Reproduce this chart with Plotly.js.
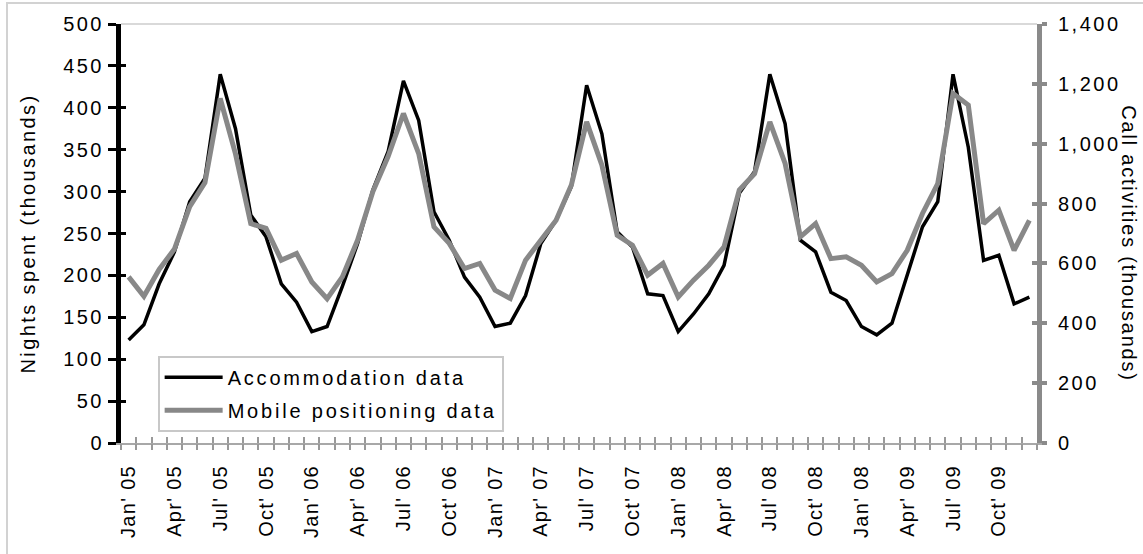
<!DOCTYPE html>
<html>
<head>
<meta charset="utf-8">
<script src="https://cdn.plot.ly/plotly-3.0.1.min.js"></script>
<style>
  html, body { margin:0; padding:0; background:#fff; }
  #wrap { position:relative; width:1143px; height:554px; overflow:hidden; }
  #chart { width:1143px; height:554px; }
  #frame { position:absolute; left:6px; top:2px; width:1200px; height:600px;
           border-left:2px solid #d2d2d2; border-top:2px solid #d2d2d2; pointer-events:none; }
  svg text { letter-spacing:2.5px; }
  g.xtick text { letter-spacing:1.3px; }
  text.legendtext { letter-spacing:2.8px; }
  text.ytitle { letter-spacing:2.4px; }
  text.annotation-text { letter-spacing:1.8px; }
</style>
</head>
<body>
<div id="wrap">
<div id="chart"></div>
<div id="frame"></div>
</div>
<script>
// Month index 0 = Jan 2005 ... 59 = Dec 2009
const monthIndex = Array.from({length: 60}, (_, i) => i);

const tickPositions = [0,3,6,9,12,15,18,21,24,27,30,33,36,39,42,45,48,51,54,57];
const tickLabels = [
  "Jan' 05","Apr' 05","Jul' 05","Oct' 05",
  "Jan' 06","Apr' 06","Jul' 06","Oct' 06",
  "Jan' 07","Apr' 07","Jul' 07","Oct' 07",
  "Jan' 08","Apr' 08","Jul' 08","Oct' 08",
  "Jan' 08","Apr' 09","Jul' 09","Oct' 09"
];

// Nights spent (thousands) - left axis
const accommodation = [
  123,141,190,228,288,316,440,375,272,246,190,168,
  133,139,187,238,302,348,432,385,276,242,198,174,
  139,143,176,238,266,306,427,369,252,234,178,176,
  133,154,178,212,298,324,440,381,242,228,180,170,
  139,129,143,202,258,288,440,353,218,224,166,174
];

// Call activities (thousands) - right axis
const mobile = [
  555,490,580,648,790,870,1151,966,733,717,611,633,
  538,482,555,678,840,958,1101,967,722,667,583,600,
  511,483,611,678,744,862,1073,928,694,661,561,600,
  488,544,594,655,845,900,1073,934,689,733,616,622,
  594,538,566,644,767,867,1168,1129,733,778,644,744
];

const FONT = "Arial, 'Liberation Sans', sans-serif";

const traces = [
  {type:'scatter', mode:'lines', name:'Accommodation data', x:monthIndex, y:accommodation,
   xaxis:'x', yaxis:'y', line:{color:'#000000', width:3.5}, legendgroup:'a'},
  {type:'scatter', mode:'lines', name:'Mobile positioning data', x:monthIndex, y:mobile,
   xaxis:'x', yaxis:'y2', line:{color:'#888888', width:5}, legendgroup:'b'},
  // helper traces so the overlay tick axes are drawn
  {type:'scatter', x:[], y:[], xaxis:'x2', yaxis:'y', showlegend:false, hoverinfo:'skip'},
  {type:'scatter', x:[], y:[], xaxis:'x3', yaxis:'y', showlegend:false, hoverinfo:'skip'},
  {type:'scatter', x:[], y:[], xaxis:'x', yaxis:'y3', showlegend:false, hoverinfo:'skip'},
  {type:'scatter', x:[], y:[], xaxis:'x', yaxis:'y4', showlegend:false, hoverinfo:'skip'}
];

const xr = [-0.5, 59.5];
const layout = {
  width:1143, height:554,
  margin:{l:121, r:106, t:24, b:111},
  paper_bgcolor:'#ffffff', plot_bgcolor:'#ffffff',
  font:{family:FONT, color:'#000', size:18},
  showlegend:true,
  legend:{x:0.04, y:0.208, xanchor:'left', yanchor:'top', bgcolor:'#ffffff',
          bordercolor:'#c8c8c8', borderwidth:2, font:{family:FONT, size:20, color:'#000'},
          traceorder:'grouped', tracegroupgap:4, itemwidth:58},
  xaxis:{type:'linear', range:xr, tickmode:'array', tickvals:tickPositions, ticktext:tickLabels,
         ticks:'', tickangle:-90, showgrid:false, zeroline:false, showline:true,
         linecolor:'#a8a8a8', linewidth:2, ticklabelstandoff:12,
         tickfont:{family:FONT, size:20, color:'#000'}},
  xaxis2:{type:'linear', range:xr, overlaying:'x', anchor:'y', tickmode:'linear', tick0:-0.5, dtick:1,
          ticks:'outside', ticklen:6, tickwidth:2, tickcolor:'#999999', showticklabels:false,
          showgrid:false, zeroline:false, showline:false},
  xaxis3:{type:'linear', range:xr, overlaying:'x', anchor:'y', tickmode:'linear', tick0:-0.5, dtick:1,
          ticks:'inside', ticklen:6, tickwidth:2, tickcolor:'#999999', showticklabels:false,
          showgrid:false, zeroline:false, showline:false},
  yaxis:{range:[0,500], tickmode:'linear', tick0:0, dtick:50, ticks:'outside', ticklen:8,
         tickwidth:3, tickcolor:'#000', showline:true, linecolor:'#000', linewidth:5,
         showgrid:false, zeroline:false, tickfont:{family:FONT, size:20, color:'#000'},
         title:{text:'Nights spent (thousands)', font:{family:FONT, size:20, color:'#000'}, standoff:24}},
  yaxis3:{range:[0,500], overlaying:'y', side:'left', anchor:'x', tickmode:'linear', tick0:0, dtick:50,
          ticks:'inside', ticklen:5, tickwidth:3, tickcolor:'#000', showticklabels:false,
          showgrid:false, zeroline:false, showline:false},
  yaxis2:{range:[0,1400], overlaying:'y', side:'right', anchor:'x', tickmode:'linear', tick0:0, dtick:200,
          tickformat:',d', ticks:'outside', ticklen:5, tickwidth:4, tickcolor:'#8a8a8a',
          showline:true, linecolor:'#8a8a8a', linewidth:5, showgrid:false, zeroline:false,
          tickfont:{family:FONT, size:20, color:'#000'}, ticklabelstandoff:7},
  yaxis4:{range:[0,1400], overlaying:'y', side:'right', anchor:'x', tickmode:'linear', tick0:0, dtick:200,
          ticks:'inside', ticklen:5, tickwidth:4, tickcolor:'#8a8a8a', showticklabels:false,
          showgrid:false, zeroline:false, showline:false},
  shapes:[
    {type:'line', xref:'paper', yref:'paper', x0:0, x1:1, y0:1, y1:1, line:{color:'#cccccc', width:1.5}, layer:'below'}
  ],
  annotations:[
    {text:'Call activities (thousands)', xref:'paper', yref:'paper', x:1.1003, y:0.477,
     textangle:90, showarrow:false, xanchor:'center', yanchor:'middle',
     font:{family:FONT, size:20, color:'#000'}}
  ]
};

Plotly.newPlot('chart', traces, layout, {displayModeBar:false, staticPlot:true}).then(function(gd){
  // lengthen legend line samples to match the reference
  gd.querySelectorAll('.legendlines path').forEach(function(p){ p.setAttribute('d','M5,0h58'); });
});
</script>
</body>
</html>
